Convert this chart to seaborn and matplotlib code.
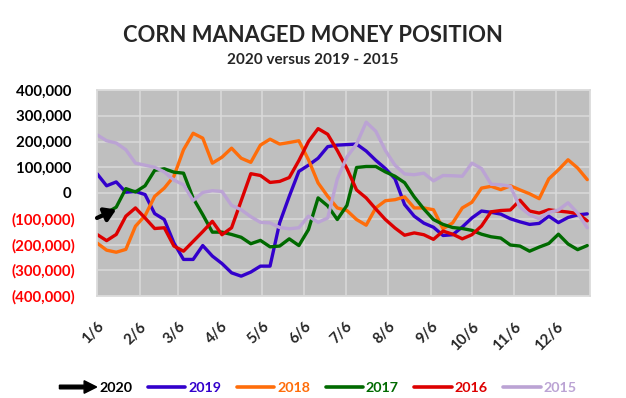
import numpy as np
import pandas as pd
import seaborn as sns
import matplotlib.pyplot as plt
import matplotlib.patches as mpatches
from matplotlib.legend_handler import HandlerPatch

# weekly readings (thousand contracts), week 0 = Jan 6
y2019 = [75, 28, 43, 3, 6, -6, -80, -103, -194, -258, -258, -204, -245, -274, -310, -323,
         -307, -284, -284, -116, -13, 84, 108, 135, 180, 186, 188, 190, 163, 127, 95, 55,
         -45, -90, -117, -133, -165, -162, -132, -97, -70, -75, -82, -100, -112, -122, -118,
         -90, -115, -95, -85, -81]
y2018 = [-194, -222, -230, -219, -129, -88, -13, 19, 65, 168, 232, 213, 116, 139, 174, 135,
         119, 186, 209, 190, 196, 203, 129, 39, -13, -58, -68, -103, -125, -58, -30, -26,
         -15, -58, -58, -65, -139, -116, -58, -36, 19, 26, 13, 28, 12, -3, -22, 55, 90, 129,
         97, 52]
y2017 = [-97, -77, -55, 17, 4, 28, 88, 94, 81, 77, -20, -84, -152, -152, -161, -172, -197,
         -184, -209, -206, -178, -204, -142, -19, -50, -103, -48, 99, 103, 103, 82, 65, 40,
         -15, -62, -103, -122, -134, -138, -145, -160, -170, -175, -202, -206, -226, -210,
         -196, -160, -198, -220, -204]
y2016 = [-161, -185, -161, -90, -58, -97, -138, -135, -206, -226, -188, -150, -110, -162,
         -135, -30, 75, 68, 41, 45, 60, 126, 200, 250, 228, 165, 95, 12, -19, -62, -103, -136,
         -164, -155, -162, -180, -148, -160, -178, -162, -128, -73, -68, -66, -28, -70, -78,
         -65, -70, -74, -80, -108]
y2015 = [226, 203, 194, 168, 116, 108, 100, 82, 50, 32, -29, 2, 9, 6, -48, -65, -92, -114,
         -116, -134, -139, -135, -90, -114, -97, 55, 140, 190, 275, 240, 165, 108, 74, 71, 77,
         47, 68, 67, 65, 116, 95, 34, 32, 26, -55, -84, -100, -75, -66, -38, -78, -135]
y2020 = [-97, -64]
weeks2020 = [0, 2]

years = ['2019', '2018', '2017', '2016', '2015']
colores = {'2019': '#3300CC', '2018': '#FF6D0A', '2017': '#006A00',
           '2016': '#DD0000', '2015': '#BBA3D4'}
mes_labels = ['1/6', '2/6', '3/6', '4/6', '5/6', '6/6', '7/6', '8/6', '9/6', '10/6', '11/6', '12/6']
mes_dias = [0, 31, 59, 90, 120, 151, 181, 212, 243, 273, 304, 334]

series = {'2019': y2019, '2018': y2018, '2017': y2017, '2016': y2016, '2015': y2015}
filas = []
for yr in years:
    for i, v in enumerate(series[yr]):
        filas.append({'dia': i * 7, 'posicion': v * 1000, 'anio': yr})
df = pd.DataFrame(filas)

sns.set_theme(style='whitegrid', rc={'axes.facecolor': '#BFBFBF', 'grid.color': '#DADADA',
                                     'axes.edgecolor': '#DADADA', 'grid.linewidth': 1.1})
plt.rcParams['font.family'] = ['Lato', 'DejaVu Sans']
plt.rcParams['font.weight'] = 'bold'

fig = plt.figure(figsize=(6.26, 3.98), dpi=100)
ax = fig.add_axes([97 / 626, 1 - 296 / 398, 493 / 626, 206 / 398])

sns.lineplot(data=df, x='dia', y='posicion', hue='anio', palette=colores,
             linewidth=2.4, ax=ax, legend=False)

# 2020 solo tiene el inicio: flecha
d20 = [w * 7 for w in weeks2020]
ax.annotate('', xy=(d20[1], y2020[1] * 1000), xytext=(d20[0], y2020[0] * 1000),
            arrowprops=dict(arrowstyle='-|>,head_length=0.55,head_width=0.35', lw=3,
                            color='black', shrinkA=0, shrinkB=0))

ax.set_xlim(0, 359)
ax.set_ylim(-400000, 400000)
ax.set_yticks(np.arange(-400000, 400001, 100000))
ylabels = []
for t in ax.get_yticks():
    if t < 0:
        ylabels.append('({:,.0f})'.format(-t))
    elif t == 0:
        ylabels.append('0 ')
    else:
        ylabels.append('{:,.0f} '.format(t))
ax.set_yticklabels(ylabels, fontsize=10.8, fontweight='bold')
for lbl, t in zip(ax.get_yticklabels(), ax.get_yticks()):
    lbl.set_color('#FF0000' if t < 0 else 'black')
ax.tick_params(axis='y', pad=16, length=0)

ax.set_xticks(mes_dias)
ax.set_xticklabels(mes_labels, rotation=45, ha='right', rotation_mode='anchor',
                   fontsize=10.8, fontweight='bold')
ax.tick_params(axis='x', pad=17, length=0)
for lbl in ax.get_xticklabels():
    lbl.set_x(lbl.get_position()[0] + 2)
ax.set_xlabel('')
ax.set_ylabel('')

fig.text(0.5, 1 - 35 / 398, 'CORN MANAGED MONEY POSITION', ha='center', va='center',
         fontsize=15.8, fontweight='bold')
fig.text(0.5, 1 - 60 / 398, '2020 versus 2019 - 2015', ha='center', va='center',
         fontsize=11, fontweight='bold')

# leyenda
def flecha(legend, orig_handle, xdescent, ydescent, width, height, fontsize):
    return mpatches.FancyArrow(-xdescent, height / 2 - ydescent, width, 0, width=2.6,
                               head_width=9, head_length=9, length_includes_head=True,
                               color='black')

handles = [mpatches.FancyArrow(0, 0, 1, 0, color='black')]
labels = ['2020']
for yr in years:
    handles.append(plt.Line2D([], [], color=colores[yr], linewidth=2.6))
    labels.append(yr)
leg = fig.legend(handles, labels, loc='center', bbox_to_anchor=(0.508, 1 - 388 / 398),
                 ncol=6, frameon=False, handlelength=2.6, handletextpad=0.2,
                 columnspacing=1.1, handler_map={mpatches.FancyArrow: HandlerPatch(patch_func=flecha)},
                 prop={'weight': 'bold', 'size': 10.3})
leg.get_texts()[0].set_color('black')
for txt, yr in zip(leg.get_texts()[1:], years):
    txt.set_color(colores[yr])

plt.savefig('out.png', dpi=100)
